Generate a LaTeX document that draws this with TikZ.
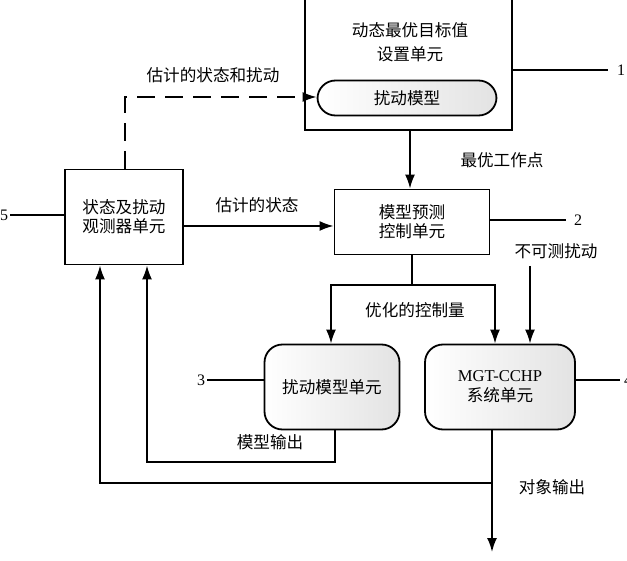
\documentclass[tikz,border=0pt]{standalone}
\usepackage{fontspec}
\newfontfamily\cjk{Noto Sans CJK SC}
\newfontfamily\lat{Liberation Serif}
\usetikzlibrary{arrows.meta}
\begin{document}
\begin{tikzpicture}[x=0.5pt,y=-0.5pt,line width=0.9pt,
  box/.style={draw,inner sep=0},
  rbox/.style={draw,rounded corners=9pt,left color=white,right color=gray!22},
  lab/.style={font=\cjk\fontsize{8.3}{9.5}\selectfont,inner sep=1pt},
  num/.style={font=\lat\fontsize{8}{9}\selectfont,inner sep=1pt},
  arr/.style={-{Latex[length=7pt,width=5pt]}}]
\useasboundingbox (0,0) rectangle (627,561);
% top box
\draw (305,-2) -- (305,130) -- (512,130) -- (512,-2);
\node[lab] (t1) at (410,30) {动态最优目标值};
\node[lab] (t2) at (410,54) {设置单元};
\node[rbox,minimum width=179*0.5pt,minimum height=35*0.5pt,lab,draw] (dm) at (407,98) {扰动模型};
\coordinate (top) at (410,130);
\coordinate (o1) at (512,70); \coordinate (e1) at (608,70);
\draw (o1) -- (e1); \node[num] (n1) at (621,70) {1};
% predictive
\node[draw,minimum width=155*0.5pt,minimum height=65*0.5pt,lab,align=center] (mp) at (412,222) {模型预测\\控制单元};
\draw[arr] (top) -- (mp.north -| top);
\node[lab] (l1) at (502,160) {最优工作点};
\coordinate (e2) at (566,220);
\draw (mp.east |- e2) -- (e2); \node[num] (n2) at (578,220) {2};
% observer
\node[draw,minimum width=118*0.5pt,minimum height=95*0.5pt,lab,align=center] (ob) at (124,217) {状态及扰动\\观测器单元};
\coordinate (e5) at (10,215);
\draw (ob.west |- e5) -- (e5); \node[num] (n5) at (4,215) {5};
\draw[arr] (ob.east |- 0,226) -- (mp.west |- 0,226);
\node[lab] (l2) at (257,205) {估计的状态};
\coordinate (d1) at (125,97);
\draw[arr,dashed,dash pattern=on 9pt off 5pt] (ob.north -| d1) -- (d1) -- (dm.west |- d1);
\node[lab] (l3) at (213,75) {估计的状态和扰动};
% distribution
\coordinate (s1) at (412,285); \coordinate (sa) at (331,285); \coordinate (sb) at (495,285);
\node[rbox,minimum width=135*0.5pt,minimum height=85*0.5pt,lab] (du) at (332,387) {扰动模型单元};
\node[rbox,minimum width=150*0.5pt,minimum height=85*0.5pt,font=\lat\fontsize{8.3}{10}\selectfont,align=center] (sy) at (500,387) {MGT-CCHP\\{\cjk 系统单元}};
\draw (mp.south) -- (s1);
\draw[arr] (s1) -- (sa) -- (sa |- du.north);
\draw[arr] (s1) -- (sb) -- (sb |- sy.north);
\node[lab] (l4) at (415,310) {优化的控制量};
\node[lab] (l5) at (556,251) {不可测扰动};
\coordinate (u) at (530,266);
\draw[arr] (u) -- (u |- sy.north);
\coordinate (e3) at (207,380);
\draw (du.west |- e3) -- (e3); \node[num] (n3) at (201,380) {3};
\coordinate (e4) at (620,380);
\draw (sy.east |- e4) -- (e4); \node[num] (n4) at (628,380) {4};
% model output
\coordinate (m1) at (335,462); \coordinate (m2) at (147,462);
\draw[arr] (du.south -| m1) -- (m1) -- (m2) -- (ob.south -| m2);
\node[lab] (l6) at (270,442) {模型输出};
% object output
\coordinate (p1) at (492,483); \coordinate (p2) at (100,483); \coordinate (p3) at (492,552);
\draw[arr] (sy.south -| p1) -- (p3);
\draw[arr] (p1) -- (p2) -- (ob.south -| p2);
\node[lab] (l7) at (552,487) {对象输出};
\end{tikzpicture}
\end{document}
